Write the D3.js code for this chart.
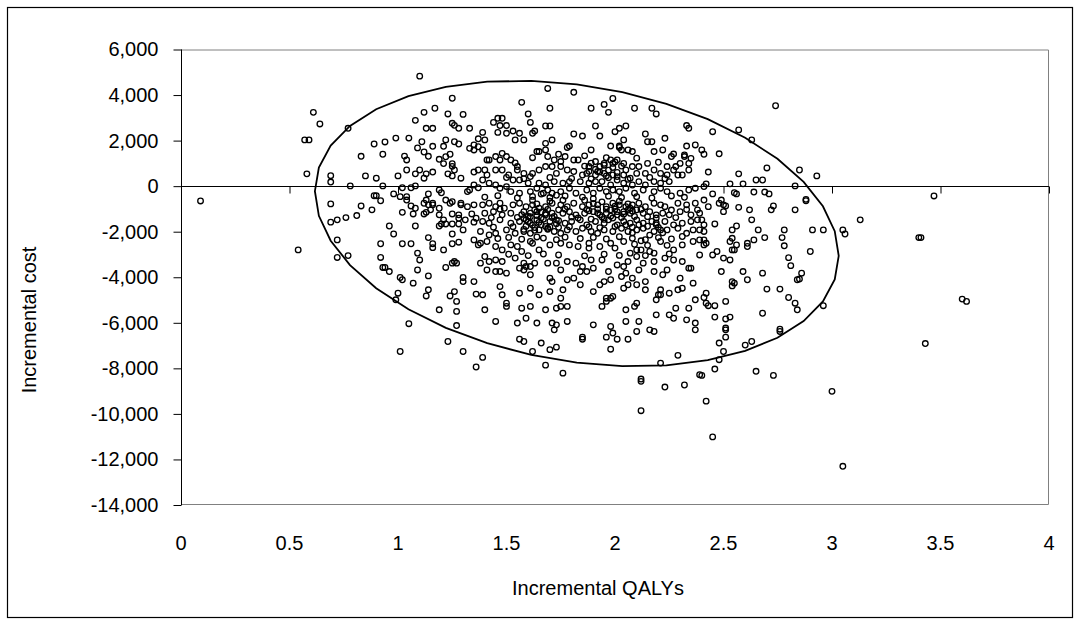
<!DOCTYPE html>
<html>
<head>
<meta charset="utf-8">
<script src="https://cdn.jsdelivr.net/npm/d3@7"></script>
<style>
  html, body { margin: 0; padding: 0; background: #fff; }
  svg text { font-family: "Liberation Sans", Arial, sans-serif; fill: #000; }
</style>
</head>
<body>
<svg id="chart" width="1080" height="625"></svg>
<script>
// Axis ticks
const qalyTicks = [0, 0.5, 1, 1.5, 2, 2.5, 3, 3.5, 4];
const costTicks = [6000, 4000, 2000, 0, -2000, -4000, -6000, -8000, -10000, -12000, -14000];

// Bootstrap replicates: [incremental QALYs, incremental cost]
const samples = [
  [0.09,-650],[0.54,-2800],[3.05,-12300],
  [1.10,4830],[0.61,3240],[0.64,2730],[0.77,2540],[0.57,2030],[0.59,2030],[0.58,540],[0.69,460],[0.69,180],[0.78,10],[0.83,1310],[0.89,1850],[0.94,1940],[0.99,2110],[0.93,1400],[0.85,450],[0.90,350],[0.93,10],[1.00,450],[1.02,-70],[1.04,710],[1.03,1320],[1.04,1150],[1.05,2110],[1.08,2890],[1.12,3240],[1.17,3420],[1.25,3860],[1.23,3170],[1.30,3150],[1.13,2540],[1.16,2540],[1.25,2760],[1.26,2670],[1.28,2540],[1.33,2540],[1.11,1950],[1.09,1680],[1.12,1500],[1.14,1310],[1.16,1750],[1.22,2030],[1.21,1750],[1.26,1950],[1.28,1850],[1.19,1180],[1.21,990],[1.22,1290],[1.24,1400],[1.25,990],[1.25,870],[1.26,710],[1.33,1660],[1.35,1810],[1.35,1590],[1.37,2080],[1.37,1730],[1.08,540],[1.10,710],[1.12,350],[1.13,540],[1.16,620],[1.23,540],[1.25,450],[1.29,350],[1.35,620],[1.37,710],[1.35,50],[1.33,-170],[1.37,-70],[0.89,-420],[0.90,-420],[0.98,-340],[1.01,-460],[1.04,-460],[1.06,-70],[1.08,10],[1.14,-340],[1.19,-170],[1.20,-290],[1.32,-240],
  [1.69,4290],[1.81,4120],[1.57,3680],[1.70,3420],[1.60,3170],[1.61,2800],[1.89,3420],[1.95,3590],[1.99,3850],[1.97,3240],[2.09,3420],[2.17,3420],[2.19,3170],[2.33,2660],[2.34,2540],[1.44,2800],[1.46,2980],[1.48,2980],[1.47,2660],[1.46,2360],[1.50,2660],[1.53,2420],[1.56,2320],[1.58,2030],[1.54,2030],[1.50,2320],[1.39,2360],[1.40,2030],[1.39,1590],[1.62,2320],[1.63,2420],[1.68,2640],[1.70,2640],[1.71,2030],[1.68,1880],[1.81,2290],[1.85,2200],[1.91,2640],[1.93,2200],[2.00,2390],[2.02,2540],[2.05,2640],[2.04,2030],[2.02,1760],[2.14,2290],[2.15,1950],[2.17,1950],[2.23,2100],[2.22,1590],[2.18,1520],[2.08,1520],[2.27,1410],[2.32,1370],[2.35,1220],[2.33,1760],[2.37,1810],[1.78,1700],[1.79,1760],[1.89,1590],[1.98,1760],[2.02,1700],[2.03,1590],[2.06,1590],[1.64,1520],[1.65,1520],[1.68,1590],[1.69,1300],[1.72,1150],[1.75,1080],[1.77,1300],
  [1.81,1150],[1.83,1150],[1.88,860],[1.91,1080],[1.93,860],[1.95,1000],[1.98,1150],[1.99,1000],[2.01,1150],[2.04,1000],[2.05,710],[2.08,860],[2.11,860],[2.15,1000],[2.18,710],[2.24,860],[2.28,860],[2.30,1000],[2.32,1300],[2.34,1000],[2.34,710],[2.29,490],[2.27,710],[2.24,490],[2.21,560],[2.14,560],[2.10,560],[2.07,350],[2.04,490],[2.01,420],[1.99,490],[1.95,560],[1.92,640],[1.91,490],[1.87,560],[1.85,490],[1.81,640],[1.78,710],[1.75,860],[1.73,560],[1.71,860],[1.68,860],[1.65,710],[1.62,560],[1.61,420],[1.58,560],[1.55,710],[1.55,860],[1.52,1150],[1.50,1300],[1.48,1440],[1.47,1150],[1.45,1300],[1.42,1150],[1.41,1150],[1.40,710],[1.41,490],[1.45,710],[1.48,710],[1.51,490],[1.53,270],[1.56,270],[1.60,130],[1.65,130],[1.68,50],[1.72,200],[1.76,130],[1.79,200],[1.84,200],[1.88,130],[1.91,200],[1.94,200],[1.98,50],[2.01,270],[2.04,130],[2.08,50],[2.11,200],[2.14,50],[2.18,200],[2.21,130],[2.25,200],[2.31,490],[1.39,270],[1.42,130],[1.45,50],[1.47,-90],[1.50,-20],[1.52,-240],[1.56,-310],[1.61,-240],[1.64,-90],[1.67,-310],[1.69,-170],[1.71,-310],[1.75,-240],[1.79,-90],[1.82,-310],[1.87,-170],[1.90,-310],[1.93,-90],[1.96,-240],[1.99,-170],[2.02,-240],[2.05,-90],[2.09,-310],[2.13,-170],[2.18,-240],[2.21,-90],[2.24,-240],[2.30,-310],[2.34,-170],[2.37,-90],
  [2.74,3530],[2.45,2390],[2.57,2470],[2.63,2030],[2.40,1590],[2.41,1400],[2.48,1420],[2.43,620],[2.57,540],[2.70,800],[2.85,710],[2.93,450],[2.65,270],[2.68,270],[2.53,100],[2.59,100],[2.42,100],[2.41,-20],[2.83,10],[2.55,-290],[2.56,-340],[2.64,-260],[2.69,-260],[2.71,-340],[2.45,-340],[2.88,-580],[2.49,-610],
  [0.69,-780],[0.83,-870],[0.88,-1040],[0.92,-640],[0.69,-1580],[0.72,-1480],[0.76,-1380],[0.81,-1290],[0.72,-2360],[0.72,-3130],[0.77,-3050],[0.96,-1750],[0.98,-2100],[0.92,-2530],[0.92,-3130],[0.93,-3570],[0.94,-3570],[0.96,-3750],[1.02,-1150],[1.07,-1220],[1.12,-1220],[1.08,-1750],[1.02,-2530],[1.06,-2530],[1.09,-2940],[1.10,-3240],[1.14,-2260],[1.16,-2530],[1.16,-2700],[1.21,-2800],[1.09,-3680],[1.01,-4010],[1.02,-4110],[1.07,-4260],[1.14,-3940],[1.00,-4700],[0.99,-4990],[1.14,-4550],[1.13,-4820],[1.19,-5430],[1.05,-6040],[1.22,-3570],[1.25,-3380],[1.26,-3310],[1.27,-3380],[1.30,-4010],[1.30,-4190],[1.35,-4190],[1.24,-4820],[1.26,-4630],[1.27,-5060],[1.27,-5500],[1.27,-6120],[1.36,-4740],[1.25,-2530],[1.28,-2460],[1.35,-2360],[1.37,-2580],[1.25,-2100],[1.30,-1920],[1.25,-1660],[1.28,-1660],[1.19,-1750],[1.20,-1660],[1.25,-1220],[1.28,-1260],[1.28,-1410],[1.31,-1480],[1.34,-1220],[1.35,-1580],[1.36,-1410],[1.13,-1150],[1.15,-1040],[1.16,-820],[1.19,-1260],[1.21,-1480],[1.22,-1660],[1.06,-870],[1.08,-970],[1.12,-750],[1.14,-820],[1.16,-750],[1.19,-970],[1.24,-750],[1.25,-680],[1.29,-820],[1.29,-750],[1.32,-900],[1.35,-820],[1.04,-610],[1.13,-610],[1.22,-610],
  [1.39,-820],[1.42,-750],[1.45,-900],[1.47,-750],[1.49,-970],[1.53,-820],[1.56,-750],[1.59,-900],[1.62,-820],[1.65,-970],[1.68,-900],[1.71,-750],[1.75,-820],[1.78,-900],[1.81,-750],[1.85,-900],[1.88,-820],[1.92,-820],[1.96,-900],[1.99,-750],[2.02,-820],[2.05,-900],[2.08,-820],[2.11,-750],[2.14,-900],[2.18,-750],[2.21,-820],[2.23,-900],[2.29,-750],[2.33,-820],[2.37,-750],
  [1.40,-1190],[1.44,-1120],[1.48,-1260],[1.52,-1190],[1.58,-1120],[1.61,-1190],[1.64,-1120],[1.68,-1260],[1.71,-1190],[1.74,-1040],[1.76,-1190],[1.79,-1120],[1.82,-1260],[1.86,-1190],[1.90,-1120],[1.93,-1260],[1.96,-1190],[1.98,-1040],[2.01,-1260],[2.04,-1120],[2.07,-1190],[2.10,-1040],[2.13,-1190],[2.16,-1120],[2.19,-1260],[2.22,-1190],[2.25,-1260],[2.30,-1120],[2.35,-1260],[2.38,-1040],
  [1.39,-1550],[1.42,-1630],[1.47,-1480],[1.52,-1630],[1.56,-1550],[1.59,-1480],[1.61,-1630],[1.64,-1480],[1.66,-1700],[1.70,-1550],[1.73,-1480],[1.77,-1630],[1.80,-1550],[1.84,-1480],[1.87,-1700],[1.91,-1550],[1.95,-1630],[1.97,-1480],[2.01,-1700],[2.04,-1550],[2.07,-1630],[2.10,-1480],[2.13,-1630],[2.17,-1550],[2.19,-1700],[2.23,-1550],[2.27,-1700],[2.31,-1630],[2.35,-1550],[2.38,-1480],
  [1.38,-1990],[1.42,-2140],[1.45,-2070],[1.50,-1920],[1.54,-2070],[1.58,-1990],[1.61,-2070],[1.65,-1920],[1.69,-1850],[1.72,-1990],[1.75,-2070],[1.78,-1920],[1.82,-1990],[1.85,-1850],[1.89,-1990],[1.92,-2070],[1.95,-1920],[1.99,-1990],[2.03,-1850],[2.06,-1990],[2.10,-1920],[2.13,-1850],[2.18,-1990],[2.21,-1920],[2.24,-1920],[2.31,-2210],[2.33,-2070],[2.36,-1920],
  [1.38,-2510],[1.41,-2430],[1.45,-2650],[1.48,-2800],[1.52,-2580],[1.55,-2650],[1.57,-2870],[1.61,-2430],[1.62,-2510],[1.65,-2800],[1.70,-2580],[1.75,-2510],[1.79,-2580],[1.83,-2650],[1.88,-2510],[1.88,-2720],[1.93,-2650],[1.98,-2510],[2.00,-2720],[2.04,-2430],[2.07,-2940],[2.10,-2800],[2.12,-2800],[2.16,-2870],[2.18,-2940],[2.21,-2430],[2.27,-2800],[2.31,-2580],[2.36,-2430],
  [1.40,-3090],[1.42,-3310],[1.45,-3240],[1.48,-3310],[1.54,-3160],[1.58,-3380],[1.61,-3530],[1.63,-3380],[1.69,-3380],[1.73,-3380],[1.78,-3310],[1.82,-3380],[1.85,-3530],[1.89,-3240],[1.90,-3600],[1.94,-3240],[1.97,-3750],[2.01,-3460],[2.04,-3530],[2.06,-3310],[2.10,-3090],[2.13,-3380],[2.18,-3310],[2.18,-3750],[2.23,-3160],[2.27,-3240],[2.31,-3310],[2.34,-3600],
  [1.38,-3380],[1.41,-3680],[1.45,-3750],[1.47,-3750],[1.50,-3820],[1.56,-3600],[1.58,-3680],[1.59,-3530],[1.61,-3890],[1.70,-4040],[1.71,-4190],[1.75,-3680],[1.78,-4110],[1.81,-4040],[1.84,-3750],[1.87,-3750],[1.95,-4190],[1.98,-4110],[2.03,-3970],[2.05,-3820],[2.08,-4040],[2.11,-3680],[2.14,-4190],[2.22,-3890],[2.24,-3680],[2.30,-4040],[2.35,-3600],
  [1.39,-4770],[1.47,-4410],[1.48,-4770],[1.56,-4700],[1.61,-4480],[1.65,-4770],[1.70,-4630],[1.75,-4920],[1.76,-4550],[1.84,-4330],[1.90,-4630],[1.93,-4330],[1.96,-4920],[1.99,-4840],[2.04,-4480],[2.06,-4330],[2.10,-4330],[2.14,-4550],[2.20,-4770],[2.21,-4550],[2.25,-4700],[2.29,-4550],[2.31,-4480],[2.36,-4260],
  [1.40,-5430],[1.50,-5140],[1.50,-5280],[1.57,-5360],[1.61,-5280],[1.68,-5430],[1.73,-5360],[1.75,-5280],[1.78,-5280],[1.94,-5280],[1.96,-5060],[1.98,-4920],[2.05,-5430],[2.09,-5280],[2.10,-5140],[2.19,-4990],[2.21,-4770],[2.28,-5360],[2.34,-5360],[2.37,-4990],
  [1.45,-5940],[1.55,-6010],[1.59,-5800],[1.64,-6010],[1.71,-6010],[1.73,-6090],[1.78,-5940],[1.90,-6090],[1.98,-6160],[2.05,-5940],[2.11,-5940],[2.19,-5650],[2.25,-5650],[2.27,-5800],[2.33,-5870],[2.37,-6010],
  [1.47,-1010],[1.55,-1370],[1.63,-1040],[1.66,-1390],[1.72,-1330],[1.77,-1010],[1.83,-1400],[1.87,-1030],[1.94,-1350],[2.00,-1010],[2.03,-1380],[2.09,-1330],[2.12,-1020],[2.19,-1400],[2.26,-1050],[2.28,-1380],[2.33,-1030],[1.43,-1380],[1.58,-1420],[1.61,-1340],[1.69,-1020],[1.80,-1360],[1.92,-1000],[1.99,-1400],[2.06,-1050],[2.15,-1340],
  [1.44,-1800],[1.53,-1780],[1.59,-1760],[1.63,-1820],[1.68,-1770],[1.74,-1810],[1.79,-1780],[1.88,-1790],[1.93,-1820],[2.00,-1770],[2.08,-1800],[2.15,-1760],[2.20,-1810],[2.29,-1850],
  [1.46,-2300],[1.51,-2250],[1.57,-2330],[1.64,-2230],[1.67,-2280],[1.73,-2350],[1.77,-2240],[1.84,-2300],[1.90,-2250],[1.96,-2320],[2.02,-2220],[2.08,-2290],[2.14,-2350],[2.20,-2260],[2.26,-2320],
  [1.51,-2990],[1.60,-3050],[1.67,-2980],[1.74,-3020],[1.86,-3060],[1.95,-2990],[2.02,-3040],[2.14,-3050],[2.25,-2980],
  [1.40,-480],[1.46,-420],[1.55,-520],[1.62,-450],[1.70,-500],[1.77,-430],[1.85,-480],[1.90,-550],[1.97,-440],[2.03,-500],[2.10,-460],[2.17,-520],[2.26,-430],[2.32,-490],
  [1.50,380],[1.58,330],[1.70,380],[1.80,340],[1.89,320],[1.97,370],[2.06,300],[2.16,380],[2.23,330],[1.54,1020],[1.62,1250],[1.74,1400],[1.86,1330],[1.96,1250],[2.10,1230],[2.20,1050],[2.26,1300],
  [1.57,-1250],[1.60,-1560],[1.62,-1710],[1.64,-1290],[1.65,-1590],[1.67,-1450],[1.69,-1890],[1.71,-1380],[1.73,-1650],[1.58,-1900],[1.63,-1940],[1.66,-1130],[1.70,-1790],[1.74,-1520],[1.60,-1330],[1.68,-1190],
  [1.86,-620],[1.88,-1080],[1.90,-760],[1.92,-1180],[1.94,-690],[1.96,-1010],[1.98,-1320],[2.00,-880],[2.02,-660],[2.04,-1230],[2.06,-780],[2.08,-1100],[1.89,-1450],[1.95,-1460],[2.01,-1120],[2.07,-970],
  [1.86,880],[1.89,1010],[1.91,740],[1.93,620],[1.95,920],[1.97,700],[1.99,820],[2.01,600],[2.03,880],[1.88,650],[1.96,450],[2.00,1060],
  [2.05,-1700],[2.08,-2050],[2.11,-1700],[2.12,-2400],[2.16,-2150],[2.19,-1620],[2.22,-2050],[2.24,-2600],[2.15,-2600],[2.09,-2550],
  [1.62,-620],[1.66,-350],[1.70,-660],[1.73,-400],[1.76,-620],[1.64,-780],
  [2.41,-610],[2.43,-900],[2.48,-750],[2.50,-820],[2.51,-870],[2.50,-1120],[2.39,-1190],[2.40,-1480],[2.41,-1700],[2.46,-1660],[2.39,-1920],[2.41,-1990],[2.39,-2360],[2.41,-2360],[2.41,-2580],[2.42,-2510],[2.39,-3020],[2.45,-3020],[2.47,-2870],[2.50,-3160],[2.53,-3240],[2.54,-1920],[2.56,-1750],[2.54,-2290],[2.53,-2430],[2.56,-2580],[2.54,-2800],[2.55,-2800],[2.61,-2650],[2.61,-2510],[2.64,-2360],[2.57,-930],[2.62,-1040],[2.63,-1480],[2.66,-1920],[2.69,-2260],[2.72,-1040],[2.73,-870],[2.83,-1040],[2.88,-640],[2.78,-1920],[2.77,-2260],[2.78,-2620],[2.80,-3140],[2.81,-3490],[2.91,-1920],[2.96,-1920],[3.05,-1920],[3.06,-2100],[3.13,-1480],[2.90,-2870],[2.49,-3750],[2.59,-3750],[2.61,-4110],[2.54,-4190],[2.55,-4260],[2.54,-4380],[2.68,-3820],[2.86,-3820],[2.84,-4110],[2.85,-4080],[2.70,-4520],[2.76,-4520],[2.80,-4890],[2.83,-5140],[2.84,-5430],[2.42,-4700],[2.41,-4890],[2.42,-5140],[2.43,-5250],[2.46,-5250],[2.51,-5060],[2.68,-5580],[2.46,-5750],[2.51,-5830],[2.53,-5750],[2.51,-6230],[2.76,-6280],[2.96,-5250],[3.40,-2260],
  [1.01,-7260],[1.23,-6820],[1.30,-7260],[1.36,-7940],
  [1.39,-7520],[1.56,-6720],[1.58,-6820],[1.62,-7260],[1.66,-6890],[1.70,-7180],[1.73,-7070],[1.68,-7860],[1.76,-8210],[1.85,-6630],[1.85,-6720],[1.96,-6630],[1.99,-6450],[2.01,-6720],[1.98,-7160],[2.06,-6720],[2.10,-6380],[2.16,-6310],[2.18,-6380],[1.72,-6310],[2.37,-6310],[2.12,-8470],[2.12,-8570],[2.21,-7770],[2.29,-7430],[2.23,-8820],[2.32,-8730],[2.39,-8280],[2.12,-9860],
  [2.51,-6310],[2.51,-6630],[2.48,-6890],[2.50,-7260],[2.48,-7620],[2.46,-8030],[2.40,-8310],[2.60,-6980],[2.63,-6820],[2.76,-6380],[2.65,-8130],[2.73,-8310],[2.42,-9440],[2.45,-11010],[3.00,-9010],
  [3.47,-430],[3.41,-2260],[3.60,-4960],[3.62,-5060],[3.43,-6910]
];

// Confidence ellipse: centre and shape terms (cost = tilt*cos t + spread*sin t)
const ellipseCentre = [1.824, -1640];
const ellipseQalySpread = 1.207;
const ellipseCostTilt = -1420;
const ellipseCostSpread = 6110;
const ellipseVertices = 36;

const svg = d3.select("#chart");
const W = 1080, H = 625;
const plot = { left: 181, right: 1049, top: 49.5, bottom: 505 };

// Number format with a plain hyphen for negatives
const fmtCost = d3.formatLocale({ decimal: ".", thousands: ",", grouping: [3], currency: ["", ""], minus: "-" }).format(",");

svg.append("rect").attr("width", W).attr("height", H).attr("fill", "#fff");
// Chart outer frame
svg.append("rect")
  .attr("x", 7.5).attr("y", 7.5).attr("width", 1065).attr("height", 610)
  .attr("fill", "none").attr("stroke", "#000").attr("stroke-width", 1.2);

const x = d3.scaleLinear().domain([0, 4]).range([plot.left, plot.right]);
const y = d3.scaleLinear().domain([-14000, 6000]).range([plot.bottom, plot.top]);

// Plot area border (top, right, bottom)
svg.append("path")
  .attr("d", `M${plot.left},${plot.top + 0.5}H${plot.right - 0.5}V${plot.bottom - 0.5}H${plot.left}`)
  .attr("fill", "none").attr("stroke", "#808080").attr("stroke-width", 1);

// Horizontal axis along cost = 0, ticks only
const xAxis = svg.append("g")
  .attr("transform", `translate(0,${Math.round(y(0)) + 0.5})`)
  .call(d3.axisBottom(x).tickValues(qalyTicks).tickSize(7).tickFormat(""));
xAxis.select(".domain").attr("stroke", "#000").attr("d", `M${plot.left},0H${plot.right}`);
xAxis.selectAll(".tick line").attr("stroke", "#000");

// Horizontal axis labels at the bottom of the plot
svg.append("g").selectAll("text")
  .data(qalyTicks).join("text")
  .attr("x", d => x(d)).attr("y", 550)
  .attr("text-anchor", "middle").attr("font-size", 20)
  .text(d => String(d));

// Vertical axis
const yAxis = svg.append("g")
  .attr("transform", `translate(${plot.left + 0.5},0)`)
  .call(d3.axisLeft(y).tickValues(costTicks).tickSize(8).tickPadding(15).tickFormat(fmtCost));
yAxis.select(".domain").attr("stroke", "#000").attr("d", `M0,${plot.top}V${plot.bottom}`);
yAxis.selectAll(".tick line").attr("stroke", "#000");
yAxis.selectAll(".tick text").attr("font-size", 20).attr("font-family", "Liberation Sans, Arial, sans-serif").attr("fill", "#000");

// Axis titles
svg.append("text")
  .attr("x", 598).attr("y", 595)
  .attr("text-anchor", "middle").attr("font-size", 20)
  .text("Incremental QALYs");
svg.append("text")
  .attr("transform", "translate(36,320) rotate(-90)")
  .attr("text-anchor", "middle").attr("font-size", 20)
  .text("Incremental cost");

// Scatter of replicates
svg.append("g").selectAll("circle")
  .data(samples).join("circle")
  .attr("cx", d => x(d[0])).attr("cy", d => y(d[1]))
  .attr("r", 2.8)
  .attr("fill", "none").attr("stroke", "#000").attr("stroke-width", 1.3);

// Ellipse outline
const angles = d3.range(ellipseVertices).map(i => 2 * Math.PI * i / ellipseVertices);
const ellipsePts = angles.map(t => [
  ellipseCentre[0] + ellipseQalySpread * Math.cos(t),
  ellipseCentre[1] + ellipseCostTilt * Math.cos(t) + ellipseCostSpread * Math.sin(t)
]);
svg.append("path")
  .datum(ellipsePts)
  .attr("d", d3.line().x(d => x(d[0])).y(d => y(d[1])).curve(d3.curveLinearClosed))
  .attr("fill", "none").attr("stroke", "#000").attr("stroke-width", 1.8);
</script>
</body>
</html>
